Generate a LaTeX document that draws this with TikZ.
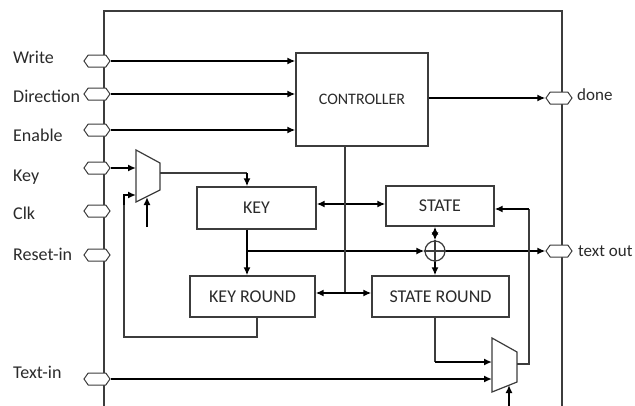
\documentclass[tikz,border=0pt]{standalone}
\usepackage{fontspec}
\setmainfont{Carlito}
\usetikzlibrary{arrows.meta,shapes.symbols}
\definecolor{edge}{HTML}{3C3C3C}
\definecolor{txt}{HTML}{2A2A2A}
\begin{document}
\begin{tikzpicture}[x=1pt,y=-1pt,
  >={Latex[length=8pt,width=7pt]},
  blk/.style={draw=edge,line width=1.3pt,inner sep=0pt,font=\fontsize{18}{20}\selectfont,text=txt},
  port/.style={shape=signal,signal to=east and west,signal pointer angle=110,draw=edge,fill=white,line width=1pt,minimum width=26pt,minimum height=12pt,inner sep=0pt},
  lbl/.style={anchor=base west,inner sep=0pt,font=\fontsize{18}{20}\selectfont,text=txt},
  bus/.style={line width=2pt,black},
  wire/.style={line width=1.2pt,edge},
]
\useasboundingbox (0,0) rectangle (635,405);
% outer frame
\draw[line width=1.4pt,edge] (104,412) -- (104,11) -- (562,11) -- (562,412);

% ports
\node[port] (pWrite) at (97,61) {};
\node[port] (pDir) at (97,94) {};
\node[port] (pEn) at (97,130) {};
\node[port] (pKey) at (97,168) {};
\node[port] (pClk) at (97,211) {};
\node[port] (pRst) at (97,255) {};
\node[port] (pTxt) at (97,379) {};
\node[port] (pDone) at (559,98) {};
\node[port] (pOut) at (559,251) {};

% labels
\node[lbl] (lWrite) at (13,63) {Write};
\node[lbl] (lDir) at (13,102) {Direction};
\node[lbl] (lEn) at (13,141) {Enable};
\node[lbl] (lKey) at (13,181) {Key};
\node[lbl] (lClk) at (13,219) {Clk};
\node[lbl] (lRst) at (13,260) {Reset-in};
\node[lbl] (lTxt) at (13,378) {Text-in};
\node[lbl,font=\fontsize{17}{19}\selectfont] (lDone) at (577,100) {done};
\node[lbl,font=\fontsize{17}{19}\selectfont] (lOut) at (578,256) {text out};

% blocks
\node[blk,minimum width=132pt,minimum height=93pt,font=\fontsize{16}{18}\selectfont] (ctrl) at (362,99.5) {CONTROLLER};
\node[blk,minimum width=119pt,minimum height=42pt] (key) at (256.5,208) {KEY};
\node[blk,minimum width=108pt,minimum height=40pt] (state) at (440,206) {STATE};
\node[blk,minimum width=125pt,minimum height=41pt] (kr) at (252.5,296.5) {KEY ROUND};
\node[blk,minimum width=137pt,minimum height=41pt] (sr) at (440.5,296.5) {STATE ROUND};

% muxes
\coordinate (m1a) at (136,150);
\coordinate (m1b) at (160,163);
\coordinate (m1c) at (160,190);
\coordinate (m1d) at (136,202);
\draw[wire,fill=white] (m1a) -- (m1b) -- (m1c) -- (m1d) -- cycle;
\coordinate (m1i1) at (136,168);
\coordinate (m1i2) at (136,195);
\coordinate (m1o) at (160,173);
\coordinate (m1s) at (147,197);

\coordinate (m2a) at (492,338);
\coordinate (m2b) at (517,352);
\coordinate (m2c) at (517,382);
\coordinate (m2d) at (492,392);
\draw[wire,fill=white] (m2a) -- (m2b) -- (m2c) -- (m2d) -- cycle;
\coordinate (m2i1) at (492,362);
\coordinate (m2i2) at (492,379);
\coordinate (m2o) at (517,364);
\coordinate (m2s) at (509,385);

% xor
\node[circle,draw=edge,line width=1.2pt,minimum size=20pt,inner sep=0pt] (xor) at (435,251) {};
\draw[wire] (xor.north) -- (xor.south) (xor.west) -- (xor.east);

% helper coordinates
\coordinate (kx) at (247,251);
\coordinate (cx) at (345,293);
\coordinate (fb) at (124,337);

% inputs to controller
\draw[bus,->] (pWrite.east) -- (ctrl.west |- pWrite);
\draw[bus,->] (pDir.east) -- (ctrl.west |- pDir);
\draw[bus,->] (pEn.east) -- (ctrl.west |- pEn);
\draw[bus,->] (ctrl.east |- pDone) -- (pDone.west);

% key path
\draw[bus,->] (pKey.east) -- (m1i1);
\draw[wire] (m1o) -- (kx |- m1o);
\draw[bus,->] (kx |- m1o) -- (kx |- key.north);
\draw[bus,->] (kx |- key.south) -- (kx |- kr.north);
\draw[bus,->] (kx) -- (xor.west);
\draw[bus,->] (xor.east) -- (pOut.west);
\draw[wire] (kr.south -| 257,0) -- (257,337) -- (fb) -- (fb |- 0,205);
\draw[bus,->] (fb |- 0,205) -- (fb |- m1i2) -- (m1i2);
\draw[bus,->] (147,227) -- (m1s);

% state path
\draw[bus,<->] (key.east |- 0,204) -- (state.west |- 0,204);
\draw[bus,<->] (xor |- state.south) -- (xor.north);
\draw[bus,->] (xor.south) -- (xor |- sr.north);
\draw[wire] (ctrl.south -| cx) -- (cx);
\draw[bus,<->] (kr.east |- cx) -- (sr.west |- cx);
\draw[wire] (sr.south -| 435,0) -- (435,362);
\draw[bus,->] (435,362) -- (m2i1);
\draw[bus,->] (pTxt.east) -- (m2i2);
\draw[bus,->] (509,410) -- (m2s);
\draw[wire] (m2o) -- (529,364) -- (529,209);
\draw[bus,->] (529,209) -- (state.east |- 0,209);
\end{tikzpicture}
\end{document}
